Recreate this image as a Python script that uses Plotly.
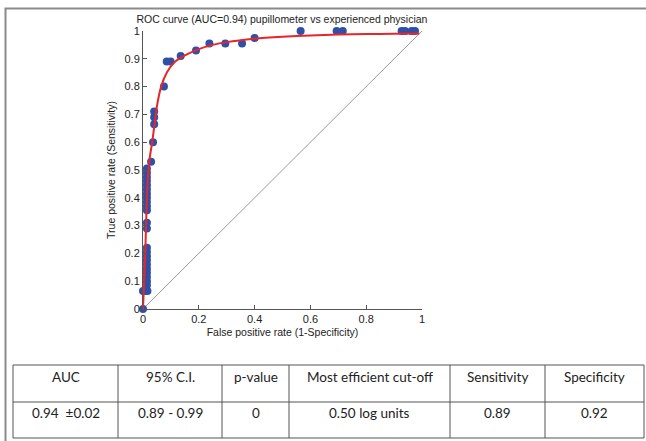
import plotly.graph_objects as go

W, H = 646, 441

# ---- data ----
fpr_points = [0, 0, 0.008, 0.016,
              0.014, 0.014, 0.014, 0.014, 0.014, 0.014, 0.014, 0.014, 0.014, 0.014,
              0.014, 0.014,
              0.014, 0.014, 0.014, 0.014, 0.014, 0.014, 0.014, 0.014, 0.014, 0.014, 0.014,
              0.029, 0.036, 0.04, 0.04, 0.04, 0.075, 0.085, 0.099, 0.135, 0.19,
              0.238, 0.295, 0.355, 0.40, 0.565, 0.694, 0.716, 0.927, 0.939, 0.963, 0.975]
tpr_points = [0, 0.065, 0.065, 0.065,
              0.085, 0.10, 0.115, 0.13, 0.145, 0.16, 0.175, 0.19, 0.205, 0.22,
              0.29, 0.31,
              0.355, 0.37, 0.385, 0.40, 0.415, 0.43, 0.445, 0.46, 0.475, 0.49, 0.505,
              0.53, 0.60, 0.665, 0.69, 0.71, 0.80, 0.89, 0.89, 0.91, 0.93,
              0.955, 0.955, 0.955, 0.975, 1, 1, 1, 1, 1, 1, 1]

fit_fpr = [0, 0.004, 0.008, 0.011, 0.014, 0.018, 0.025, 0.033, 0.042, 0.05, 0.065,
           0.085, 0.11, 0.15, 0.2, 0.25, 0.3, 0.4, 0.5, 0.6, 0.7, 0.8, 0.9, 0.99]
fit_tpr = [0, 0.1, 0.2, 0.3, 0.4, 0.48, 0.55, 0.6, 0.67, 0.73, 0.8,
           0.85, 0.885, 0.912, 0.935, 0.95, 0.96, 0.972, 0.979, 0.984, 0.987, 0.989, 0.99, 0.991]

chance_x = [0, 1]
chance_y = [0, 1]

x_ticks = [0, 0.2, 0.4, 0.6, 0.8, 1]
y_ticks = [0, 0.1, 0.2, 0.3, 0.4, 0.5, 0.6, 0.7, 0.8, 0.9, 1]

table_headers = ["AUC", "95% C.I.", "p-value", "Most efficient cut-off", "Sensitivity", "Specificity"]
table_values = ["0.94  \u00b10.02", "0.89 - 0.99", "0", "0.50 log units", "0.89", "0.92"]

title_text = "ROC curve (AUC=0.94) pupillometer vs experienced physician"
x_title = "False positive rate (1-Specificity)"
y_title = "True positive rate (Sensitivity)"

# ---- layout helpers (pixel -> paper) ----
def fx(p):
    return p / W

def fy(p):
    return 1 - p / H

fig = go.Figure()
fig.add_trace(go.Scatter(x=chance_x, y=chance_y, mode="lines",
                         line=dict(color="#9a9a9a", width=1), hoverinfo="skip",
                         cliponaxis=False))
fig.add_trace(go.Scatter(x=fpr_points, y=tpr_points, mode="markers",
                         marker=dict(color="#3050A8", size=8, line=dict(width=0)),
                         cliponaxis=False))
fig.add_trace(go.Scatter(x=fit_fpr, y=fit_tpr, mode="lines",
                         line=dict(color="#E8262A", width=2, shape="spline", smoothing=0.6),
                         cliponaxis=False))

FAM = "Liberation Sans, Arial, sans-serif"
axis_font = dict(family=FAM, size=11, color="#222")

fig.update_layout(
    width=W, height=H,
    margin=dict(l=0, r=0, t=0, b=0, autoexpand=False),
    paper_bgcolor="white", plot_bgcolor="white",
    showlegend=False,
    font=axis_font,
    title=dict(text=title_text, x=fx(282), xanchor="center", y=fy(19), yanchor="middle",
               yref="container", xref="container", automargin=False,
               font=dict(family=FAM, size=10.5, color="#222")),
    xaxis=dict(domain=[fx(143), fx(422)], range=[0, 1], tickvals=x_ticks, automargin=False,
               ticks="inside", ticklen=4, tickcolor="#555", showline=True, linecolor="#555",
               linewidth=1, showgrid=False, zeroline=False, tickfont=axis_font,
               title=dict(text=x_title, font=dict(family=FAM, size=10.5, color="#222"), standoff=4)),
    yaxis=dict(domain=[fy(309), fy(31)], range=[0, 1], tickvals=y_ticks, automargin=False,
               ticks="inside", ticklen=4, tickcolor="#555", showline=True, linecolor="#555",
               linewidth=1, showgrid=False, zeroline=False, tickfont=axis_font,
               title=dict(text=y_title, font=dict(family=FAM, size=10.5, color="#222"), standoff=6)),
)

shapes = []
# outer frame (left and top), drawn as an open path in paper coords
frame_path = "M {:.5f},{:.5f} L {:.5f},{:.5f} L {:.5f},{:.5f}".format(
    fx(5.5), fy(445), fx(5.5), fy(8.5), fx(650), fy(8.5))
shapes.append(dict(type="path", xref="paper", yref="paper", path=frame_path,
                   line=dict(color="#8a8a8a", width=2), layer="above"))

# table grid
col_edges = [13, 118, 222, 289, 450, 545, 644]
row_edges = [365, 402, 438]
for ry in row_edges:
    shapes.append(dict(type="line", xref="paper", yref="paper", x0=fx(col_edges[0]), y0=fy(ry),
                       x1=fx(col_edges[-1]), y1=fy(ry), line=dict(color="#555", width=1)))
for cx in col_edges:
    shapes.append(dict(type="line", xref="paper", yref="paper", x0=fx(cx), y0=fy(row_edges[0]),
                       x1=fx(cx), y1=fy(row_edges[-1]), line=dict(color="#555", width=1)))

annotations = []
tfont = dict(family="Lato, Noto Sans, sans-serif", size=13.5, color="#222")
for i, (h, v) in enumerate(zip(table_headers, table_values)):
    cxm = (col_edges[i] + col_edges[i + 1]) / 2
    annotations.append(dict(x=fx(cxm), y=fy(377), xref="paper", yref="paper", text=h,
                            showarrow=False, xanchor="center", yanchor="middle", font=tfont))
    annotations.append(dict(x=fx(cxm), y=fy(413), xref="paper", yref="paper", text=v,
                            showarrow=False, xanchor="center", yanchor="middle", font=tfont))

fig.update_layout(shapes=shapes, annotations=annotations)

fig.write_html("out.html", config={"displayModeBar": False},
               post_script="document.body.style.margin='0';document.body.style.overflow='hidden';")
